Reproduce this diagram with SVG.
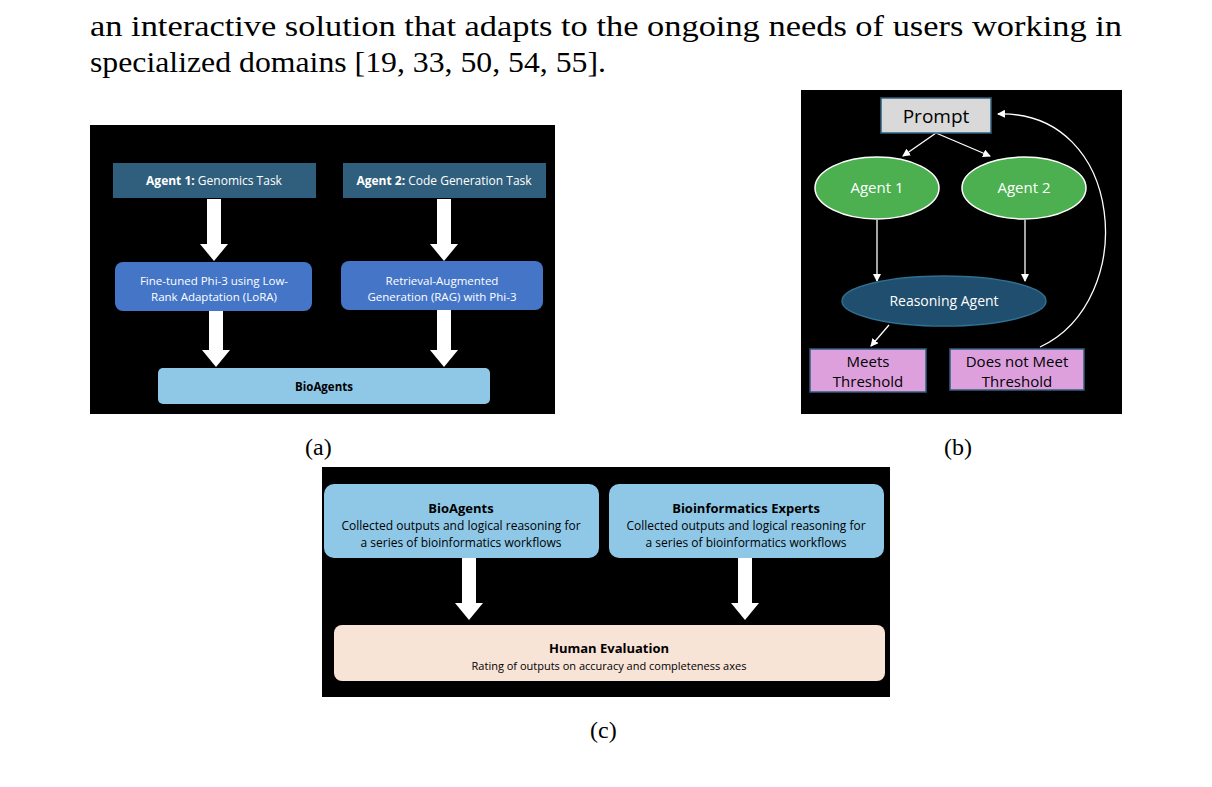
<svg xmlns="http://www.w3.org/2000/svg" width="1212" height="787" viewBox="0 0 1212 787">
<style>
.body{font-family:"Liberation Serif",serif;font-size:29px;fill:#000}
.cap{font-family:"Liberation Serif",serif;font-size:24px;fill:#000}
.s{font-family:"Open Sans","Noto Sans",sans-serif;fill:#fff;text-anchor:middle}
.d{font-family:"Open Sans","Noto Sans",sans-serif;fill:#000;text-anchor:middle}
.wl{stroke:#fff;stroke-width:1.3;fill:none}
</style>
<defs>
<marker id="ah" markerWidth="8" markerHeight="8" refX="7" refY="4" orient="auto" markerUnits="userSpaceOnUse"><path d="M0,0 L8,4 L0,8 Z" fill="#fff"/></marker>
<g id="fat"><rect x="-7" y="0" width="14" height="45" fill="#fff"/><path d="M-14,45 L14,45 L0,62 Z" fill="#fff"/></g>
</defs>
<rect width="1212" height="787" fill="#fff"/>
<text class="body" x="90" y="36" textLength="1032" lengthAdjust="spacingAndGlyphs">an interactive solution that adapts to the ongoing needs of users working in</text>
<text class="body" x="90" y="72" textLength="516" lengthAdjust="spacingAndGlyphs">specialized domains [19, 33, 50, 54, 55].</text>

<!-- (a) -->
<rect x="90" y="125" width="465" height="289" fill="#000"/>
<g id="connectors-a">
<use href="#fat" x="214" y="199"/><use href="#fat" x="444" y="199"/>
<use href="#fat" x="216" y="305"/><use href="#fat" x="444" y="305"/>
</g>
<g id="a1"><rect x="113" y="163" width="203" height="35" fill="#2f5f7d"/><text class="s" x="214" y="185" font-size="12"><tspan font-weight="bold">Agent 1:</tspan> Genomics Task</text></g>
<g id="a2"><rect x="343" y="163" width="203" height="35" fill="#2f5f7d"/><text class="s" x="444" y="185" font-size="12"><tspan font-weight="bold">Agent 2:</tspan> Code Generation Task</text></g>
<g id="ft"><rect x="115" y="262" width="197" height="49" rx="8" fill="#4475c7"/><text class="s" x="214" y="285" font-size="11.5">Fine-tuned Phi-3 using Low-</text><text class="s" x="214" y="301" font-size="11.5">Rank Adaptation (LoRA)</text></g>
<g id="rag"><rect x="341" y="261" width="202" height="49" rx="8" fill="#4475c7"/><text class="s" x="442" y="285" font-size="11.5">Retrieval-Augmented</text><text class="s" x="442" y="301" font-size="11.5">Generation (RAG) with Phi-3</text></g>
<g id="bio"><rect x="158" y="368" width="332" height="36" rx="5" fill="#8fc8e7"/><text class="d" x="324" y="391" font-size="11.5" font-weight="bold">BioAgents</text></g>
<text class="cap" x="305" y="455">(a)</text>

<!-- (b) -->
<rect x="801" y="90" width="321" height="324" fill="#000"/>
<g id="connectors-b">
<path class="wl" d="M936,133 L903,156" marker-end="url(#ah)"/>
<path class="wl" d="M936,133 L990,156" marker-end="url(#ah)"/>
<path class="wl" d="M877,220 L877,281" marker-end="url(#ah)"/>
<path class="wl" d="M1025,220 L1025,281" marker-end="url(#ah)"/>
<path class="wl" d="M889,325 L871,346" marker-end="url(#ah)"/>
<path class="wl" d="M1040,347 C1140,300 1125,110 998,114" marker-end="url(#ah)"/>
</g>
<g id="prompt"><rect x="881" y="98" width="110" height="35" fill="#d9d9d9" stroke="#2f5f7d" stroke-width="1.5"/><text class="d" x="936" y="123" font-size="19">Prompt</text></g>
<g id="ag1"><ellipse cx="877" cy="188" rx="62" ry="31" fill="#4caf50" stroke="#fff" stroke-width="1.5"/><text class="s" x="877" y="193" font-size="15">Agent 1</text></g>
<g id="ag2"><ellipse cx="1024" cy="188" rx="62" ry="31" fill="#4caf50" stroke="#fff" stroke-width="1.5"/><text class="s" x="1024" y="193" font-size="15">Agent 2</text></g>
<g id="reason"><ellipse cx="944" cy="301" rx="102" ry="25" fill="#1f4e6e" stroke="#2f6f90" stroke-width="1.5"/><text class="s" x="944" y="306" font-size="14">Reasoning Agent</text></g>
<g id="meets"><rect x="810" y="349" width="116" height="43" fill="#dda0dd" stroke="#2f5f7d" stroke-width="1.5"/><text class="d" x="868" y="367" font-size="15">Meets</text><text class="d" x="868" y="387" font-size="15">Threshold</text></g>
<g id="notmeet"><rect x="950" y="349" width="134" height="41" fill="#dda0dd" stroke="#2f5f7d" stroke-width="1.5"/><text class="d" x="1017" y="367" font-size="15">Does not Meet</text><text class="d" x="1017" y="387" font-size="15">Threshold</text></g>
<text class="cap" x="944" y="455">(b)</text>

<!-- (c) -->
<rect x="322" y="467" width="568" height="230" fill="#000"/>
<g id="connectors-c">
<use href="#fat" x="469" y="558"/><use href="#fat" x="745" y="558"/>
</g>
<g id="cbio"><rect x="324" y="484" width="275" height="74" rx="10" fill="#8fc8e7"/><text class="d" x="461" y="513" font-size="13" font-weight="bold">BioAgents</text><text class="d" x="461" y="530" font-size="12">Collected outputs and logical reasoning for</text><text class="d" x="461" y="547" font-size="12">a series of bioinformatics workflows</text></g>
<g id="cexp"><rect x="609" y="484" width="275" height="74" rx="10" fill="#8fc8e7"/><text class="d" x="746" y="513" font-size="13" font-weight="bold">Bioinformatics Experts</text><text class="d" x="746" y="530" font-size="12">Collected outputs and logical reasoning for</text><text class="d" x="746" y="547" font-size="12">a series of bioinformatics workflows</text></g>
<g id="human"><rect x="334" y="625" width="551" height="56" rx="8" fill="#f8e3d7"/><text class="d" x="609" y="653" font-size="13" font-weight="bold">Human Evaluation</text><text class="d" x="609" y="670" font-size="11">Rating of outputs on accuracy and completeness axes</text></g>
<text class="cap" x="590" y="738">(c)</text>
</svg>
